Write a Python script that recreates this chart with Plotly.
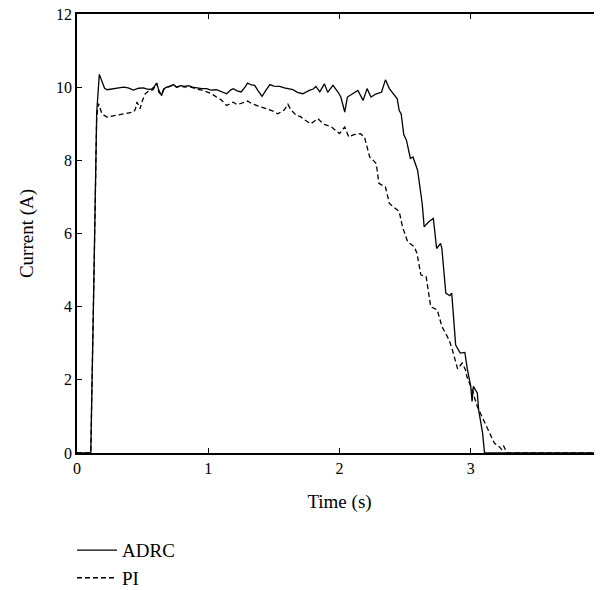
import plotly.graph_objects as go

# ADRC current (solid)
adrc_t = [0, 0.105, 0.13, 0.15, 0.17, 0.19, 0.21, 0.23, 0.27, 0.31, 0.354, 0.39, 0.43, 0.47, 0.506,
          0.54, 0.57, 0.59, 0.607, 0.625, 0.645, 0.66, 0.683, 0.71, 0.734, 0.76, 0.79, 0.82, 0.85,
          0.88, 0.91, 0.95, 0.987, 1.02, 1.063, 1.10, 1.14, 1.17, 1.19, 1.22, 1.25, 1.28, 1.30,
          1.33, 1.354, 1.38, 1.41, 1.44, 1.47, 1.50, 1.544, 1.58, 1.62, 1.645, 1.68, 1.72, 1.77,
          1.80, 1.82, 1.85, 1.885, 1.91, 1.95, 1.99, 2.01, 2.04, 2.06, 2.10, 2.14, 2.18, 2.21,
          2.24, 2.28, 2.32, 2.35, 2.38, 2.42, 2.44, 2.455, 2.47, 2.49, 2.51, 2.54, 2.56, 2.595,
          2.63, 2.645, 2.68, 2.715, 2.74, 2.77, 2.78, 2.81, 2.84, 2.855, 2.885, 2.92, 2.955,
          2.975, 3.0, 3.01, 3.02, 3.05, 3.06, 3.09, 3.105, 4.0]
adrc_i = [0, 0, 5.0, 9.3, 10.35, 10.15, 9.97, 9.93, 9.95, 9.97, 10.0, 9.98, 9.92, 9.97, 9.98,
          9.94, 9.95, 10.02, 10.11, 9.9, 9.77, 9.95, 10.0, 10.03, 10.07, 10.0, 10.04, 10.02, 10.04,
          10.0, 9.98, 9.96, 9.96, 9.92, 9.93, 9.88, 9.82, 9.92, 9.96, 9.9, 9.87, 10.0, 10.11,
          10.06, 10.05, 9.9, 9.75, 9.92, 10.07, 10.03, 10.02, 9.98, 9.95, 9.93, 9.86, 9.82, 9.91,
          9.95, 10.02, 9.87, 10.09, 9.86, 10.05, 9.86, 9.73, 9.32, 9.73, 9.82, 9.91, 9.64, 9.96,
          9.73, 9.82, 9.86, 10.2, 9.96, 9.77, 9.68, 9.36, 9.27, 8.7, 8.55, 8.05, 8.09, 7.73,
          6.82, 6.18, 6.32, 6.41, 5.59, 5.73, 5.59, 4.37, 4.3, 4.37, 2.95, 2.73, 2.75,
          2.27, 1.82, 1.41, 1.82, 1.64, 1.18, 0.55, 0, 0]

# PI current (dashed)
pi_t = [0, 0.105, 0.13, 0.15, 0.164, 0.18, 0.19, 0.228, 0.28, 0.33, 0.38, 0.43, 0.445, 0.456,
        0.47, 0.48, 0.5, 0.52, 0.55, 0.58, 0.607, 0.625, 0.645, 0.66, 0.683, 0.71, 0.734, 0.76,
        0.79, 0.82, 0.85, 0.88, 0.91, 0.95, 0.987, 1.02, 1.063, 1.10, 1.14, 1.19, 1.22, 1.25,
        1.30, 1.33, 1.367, 1.40, 1.44, 1.49, 1.53, 1.58, 1.607, 1.63, 1.67, 1.70, 1.733, 1.78,
        1.80, 1.835, 1.85, 1.885, 1.94, 2.0, 2.04, 2.07, 2.11, 2.16, 2.19, 2.21, 2.23, 2.25,
        2.28, 2.30, 2.35, 2.38, 2.43, 2.455, 2.48, 2.52, 2.57, 2.59, 2.62, 2.66, 2.695, 2.745,
        2.78, 2.835, 2.86, 2.90, 2.935, 2.96, 2.97, 3.01, 3.05, 3.10, 3.14, 3.18, 3.22, 3.235,
        3.25, 3.275, 4.0]
pi_i = [0, 0, 5.0, 9.2, 9.55, 9.4, 9.27, 9.18, 9.22, 9.25, 9.28, 9.32, 9.4, 9.59,
        9.5, 9.41, 9.65, 9.82, 9.9, 9.93, 10.11, 9.85, 9.8, 9.93, 9.98, 10.03, 10.05, 10.0,
        10.03, 10.0, 10.02, 9.98, 9.95, 9.92, 9.87, 9.83, 9.73, 9.65, 9.50, 9.59, 9.52, 9.55,
        9.62, 9.55, 9.50, 9.47, 9.41, 9.35, 9.27, 9.38, 9.53, 9.38, 9.23, 9.2, 9.11, 9.0,
        9.05, 9.14, 9.09, 8.98, 8.91, 8.73, 8.91, 8.64, 8.7, 8.73, 8.64, 8.35, 8.09, 8.03,
        7.91, 7.37, 7.27, 6.82, 6.68, 6.6, 6.18, 5.77, 5.64, 5.46, 4.87, 4.82, 4.0, 3.91,
        3.46, 3.09, 2.82, 2.3, 2.46, 2.27, 2.09, 1.73, 1.27, 0.88, 0.55, 0.27, 0.16, 0.1,
        0.2, 0, 0]

x_ticks = [0, 1, 2, 3, 4]
y_ticks = [0, 2, 4, 6, 8, 10, 12]

FONT = "Liberation Serif, Times New Roman, serif"

fig = go.Figure()
fig.add_trace(go.Scatter(x=adrc_t, y=adrc_i, mode="lines", name="ADRC",
                         line=dict(color="black", width=1.3)))
fig.add_trace(go.Scatter(x=pi_t, y=pi_i, mode="lines", name="PI",
                         line=dict(color="black", width=1.3, dash="5px,3px")))

axis_common = dict(showline=True, linecolor="black", linewidth=1.6, mirror="ticks",
                   ticks="inside", ticklen=5, tickwidth=1, tickcolor="black",
                   showgrid=False, zeroline=False, automargin=False,
                   ticklabeloverflow="allow",
                   tickfont=dict(family=FONT, size=16, color="black"))

fig.update_xaxes(range=[0, 4], tickvals=x_ticks,
                 title=dict(text="Time (s)", font=dict(family=FONT, size=19, color="black"),
                            standoff=19),
                 **axis_common)
fig.update_yaxes(range=[0, 12], tickvals=y_ticks,
                 title=dict(text="Current (A)", font=dict(family=FONT, size=19, color="black"),
                            standoff=17),
                 **axis_common)

fig.update_layout(
    width=594, height=582,
    margin=dict(l=69, r=0, t=6, b=137),
    paper_bgcolor="white", plot_bgcolor="white",
    showlegend=True,
    legend=dict(orientation="v", xref="paper", yref="container",
                x=-0.0095, xanchor="left", y=0.101, yanchor="top",
                itemwidth=40,
                font=dict(family=FONT, size=19, color="black"),
                tracegroupgap=0, bgcolor="rgba(0,0,0,0)"),
    font=dict(family=FONT, color="black"),
)

fig.write_html("out.html")
